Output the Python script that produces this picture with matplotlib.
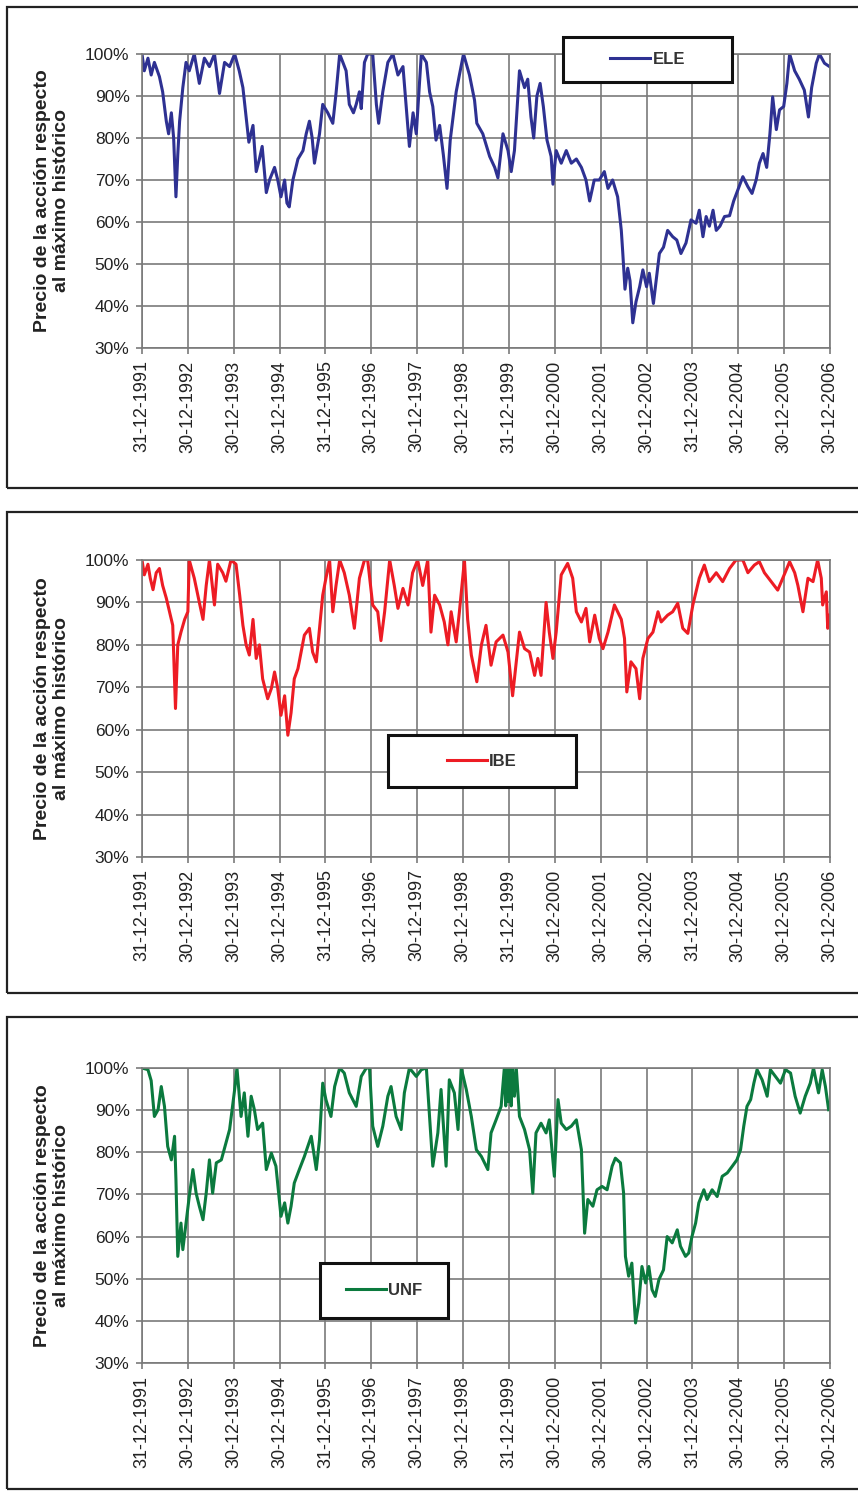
import matplotlib
matplotlib.use("Agg")
import matplotlib.pyplot as plt
from matplotlib.patches import Rectangle

plt.rcParams['font.family'] = ['Liberation Sans', 'DejaVu Sans']

# -----------------------------
# Data (decimal years / % of historic max)
# -----------------------------
ele_years = [1992.00, 1992.05, 1992.13, 1992.20, 1992.27, 1992.38, 1992.45, 1992.53, 1992.58, 1992.64,
             1992.69, 1992.74, 1992.78, 1992.82, 1992.89, 1992.96, 1993.03, 1993.14, 1993.25, 1993.36,
             1993.47, 1993.58, 1993.69, 1993.80, 1993.91, 1994.02, 1994.12, 1994.20, 1994.27, 1994.33,
             1994.42, 1994.49, 1994.56, 1994.62, 1994.71, 1994.78, 1994.89, 1994.96, 1995.03, 1995.11,
             1995.16, 1995.21, 1995.29, 1995.40, 1995.51, 1995.58, 1995.65, 1995.71, 1995.76, 1995.87,
             1995.94, 1996.05, 1996.16, 1996.23, 1996.31, 1996.38, 1996.45, 1996.52, 1996.61, 1996.67,
             1996.74, 1996.78, 1996.85, 1996.92, 1997.03, 1997.11, 1997.16, 1997.25, 1997.36, 1997.47,
             1997.58, 1997.69, 1997.76, 1997.83, 1997.91, 1997.98, 1998.09, 1998.20, 1998.27, 1998.34,
             1998.41, 1998.49, 1998.57, 1998.65, 1998.72, 1998.85, 1998.92, 1999.01, 1999.14, 1999.25,
             1999.30, 1999.43, 1999.58, 1999.69, 1999.76, 1999.87, 1999.98, 2000.05, 2000.12, 2000.23,
             2000.34, 2000.41, 2000.48, 2000.54, 2000.61, 2000.68, 2000.75, 2000.83, 2000.92, 2000.96,
             2001.03, 2001.14, 2001.25, 2001.36, 2001.47, 2001.58, 2001.68, 2001.76, 2001.86, 2001.97,
             2002.08, 2002.16, 2002.26, 2002.37, 2002.45, 2002.48, 2002.53, 2002.59, 2002.64, 2002.70,
             2002.77, 2002.85, 2002.92, 2003.00, 2003.06, 2003.15, 2003.21, 2003.28, 2003.37, 2003.46,
             2003.57, 2003.66, 2003.75, 2003.86, 2003.97, 2004.08, 2004.15, 2004.23, 2004.30, 2004.37,
             2004.45, 2004.52, 2004.60, 2004.70, 2004.81, 2004.90, 2004.99, 2005.10, 2005.21, 2005.30,
             2005.39, 2005.46, 2005.54, 2005.62, 2005.69, 2005.75, 2005.83, 2005.90, 2005.99, 2006.06,
             2006.12, 2006.23, 2006.33, 2006.44, 2006.53, 2006.60, 2006.70, 2006.77, 2006.88, 2006.99]
ele_vals = [100, 96, 99, 95, 98, 94.6, 91, 84, 81, 86,
            80, 66, 76, 84, 92, 98, 96, 100, 93, 99,
            97, 100, 90.6, 98, 97, 100, 96, 92, 85, 79,
            83, 72, 75, 78, 67, 70, 73, 70, 66, 70,
            64.5, 63.6, 70, 75, 77, 81, 84, 80, 74, 81,
            88, 86, 83.5, 90.6, 100, 98, 96, 88, 86, 88,
            91, 87, 98, 100, 100, 88, 83.5, 91, 98, 100,
            95, 97, 87.5, 78, 86, 81, 100, 98, 91, 87.5,
            79.5, 83, 76, 68, 79.5, 91, 95, 100, 95, 89,
            83.5, 81, 75.6, 73, 70.5, 81, 77, 72, 77, 96,
            92, 94, 85, 80, 90, 93, 87.5, 79.5, 75.6, 69,
            77, 74, 77, 74, 75, 73, 70, 65, 70, 70,
            72, 68, 70, 66, 58, 53, 44, 49, 46, 36,
            41, 44.6, 48.6, 44.6, 47.8, 40.6, 46, 52.5, 54, 58,
            56.5, 55.7, 52.5, 55, 60.5, 59.7, 62.8, 56.5, 61.3, 59,
            62.8, 58, 59, 61.3, 61.5, 65, 67.6, 70.8, 68.4, 66.8,
            70, 74, 76.3, 73, 81, 89.8, 82, 86.7, 87.5, 93,
            100, 96, 94, 91.4, 85, 92, 97.8, 100, 97.8, 97]

ibe_years = [1992.00, 1992.05, 1992.13, 1992.18, 1992.24, 1992.31, 1992.38, 1992.45, 1992.53, 1992.60,
             1992.67, 1992.73, 1992.78, 1992.85, 1992.93, 1993.00, 1993.03, 1993.14, 1993.25, 1993.33,
             1993.40, 1993.47, 1993.58, 1993.65, 1993.76, 1993.83, 1993.94, 1994.05, 1994.13, 1994.20,
             1994.27, 1994.34, 1994.42, 1994.49, 1994.56, 1994.63, 1994.74, 1994.82, 1994.89, 1994.96,
             1995.03, 1995.11, 1995.18, 1995.25, 1995.32, 1995.40, 1995.47, 1995.54, 1995.65, 1995.72,
             1995.80, 1995.87, 1995.94, 1996.01, 1996.09, 1996.16, 1996.23, 1996.31, 1996.41, 1996.52,
             1996.63, 1996.74, 1996.85, 1996.92, 1997.03, 1997.14, 1997.21, 1997.29, 1997.40, 1997.50,
             1997.58, 1997.69, 1997.80, 1997.90, 1998.01, 1998.12, 1998.23, 1998.30, 1998.38, 1998.49,
             1998.59, 1998.67, 1998.74, 1998.85, 1998.92, 1999.03, 1999.10, 1999.18, 1999.30, 1999.40,
             1999.50, 1999.61, 1999.72, 1999.87, 1999.98, 2000.08, 2000.16, 2000.23, 2000.34, 2000.45,
             2000.56, 2000.63, 2000.70, 2000.81, 2000.88, 2000.96, 2001.03, 2001.14, 2001.28, 2001.39,
             2001.47, 2001.58, 2001.68, 2001.76, 2001.87, 2001.97, 2002.05, 2002.16, 2002.30, 2002.45,
             2002.52, 2002.57, 2002.66, 2002.77, 2002.85, 2002.92, 2003.03, 2003.14, 2003.25, 2003.32,
             2003.46, 2003.57, 2003.68, 2003.79, 2003.90, 2004.01, 2004.15, 2004.26, 2004.37, 2004.52,
             2004.66, 2004.81, 2004.95, 2005.10, 2005.21, 2005.35, 2005.46, 2005.57, 2005.72, 2005.86,
             2005.97, 2006.12, 2006.23, 2006.30, 2006.41, 2006.52, 2006.63, 2006.73, 2006.81, 2006.84,
             2006.92, 2006.95, 2007.00]
ibe_vals = [100, 96.5, 99, 95.7, 93, 97, 98, 94, 91, 87.8,
            84.6, 65, 80, 83, 86, 87.8, 100, 95.7, 90, 86,
            94, 100, 89.4, 99, 97, 95, 100, 99, 91.7, 84.6,
            80, 77.6, 86, 76.8, 80, 72, 67.3, 69.7, 73.6, 69.7,
            63.4, 68, 58.7, 64, 72, 74.4, 78.3, 82.3, 83.9, 78.3,
            76, 83.9, 91.7, 95.7, 100, 87.8, 94, 100, 97, 91.7,
            83.9, 95.7, 100, 100, 89.4, 87.8, 81, 87.8, 100, 94,
            88.6, 93.3, 89.4, 97, 100, 94, 100, 83, 91.7, 89.4,
            85.4, 80, 87.8, 80.7, 87.8, 100, 86, 77.6, 71.3, 80,
            84.6, 75.2, 80.7, 82.3, 78.3, 68, 76, 83, 79.1, 78.3,
            72.8, 76.8, 72.8, 90, 83, 76.8, 83, 96.5, 99.2, 95.7,
            87.8, 85.4, 88.6, 80.7, 87, 81.5, 79.1, 83, 89.4, 86,
            81.5, 68.9, 76, 74.4, 67.3, 76.8, 81.5, 83, 87.8, 85.4,
            87, 87.8, 89.8, 83.9, 82.7, 89.4, 95.7, 98.8, 94.9, 97,
            94.9, 98, 100, 100, 97, 98.8, 99.6, 97, 94.9, 92.9,
            95.7, 99.6, 97, 94, 87.8, 95.7, 94.9, 100, 95.7, 89.4,
            92.5, 83.9, 87]

unf_years = [1992.00, 1992.13, 1992.20, 1992.27, 1992.35, 1992.42, 1992.49, 1992.56, 1992.64, 1992.71,
             1992.74, 1992.78, 1992.85, 1992.89, 1992.96, 1993.03, 1993.11, 1993.18, 1993.25, 1993.33,
             1993.40, 1993.47, 1993.54, 1993.62, 1993.73, 1993.83, 1993.91, 1994.02, 1994.07, 1994.16,
             1994.23, 1994.31, 1994.38, 1994.45, 1994.52, 1994.63, 1994.71, 1994.82, 1994.92, 1995.03,
             1995.11, 1995.18, 1995.25, 1995.32, 1995.43, 1995.54, 1995.69, 1995.80, 1995.87, 1995.94,
             1996.01, 1996.12, 1996.20, 1996.31, 1996.41, 1996.52, 1996.67, 1996.78, 1996.89, 1996.96,
             1997.03, 1997.14, 1997.25, 1997.36, 1997.43, 1997.54, 1997.65, 1997.72, 1997.83, 1997.98,
             1998.09, 1998.20, 1998.27, 1998.34, 1998.45, 1998.52, 1998.63, 1998.70, 1998.81, 1998.89,
             1998.96, 1999.07, 1999.18, 1999.29, 1999.40, 1999.54, 1999.61, 1999.72, 1999.83, 1999.90,
             1999.93, 1999.96, 1999.99, 2000.02, 2000.05, 2000.08, 2000.12, 2000.16, 2000.23, 2000.34,
             2000.45, 2000.52, 2000.59, 2000.70, 2000.81, 2000.88, 2000.99, 2001.07, 2001.14, 2001.25,
             2001.36, 2001.47, 2001.58, 2001.65, 2001.72, 2001.83, 2001.92, 2002.03, 2002.14, 2002.25,
             2002.32, 2002.43, 2002.50, 2002.54, 2002.61, 2002.68, 2002.76, 2002.83, 2002.90, 2002.98,
             2003.05, 2003.12, 2003.19, 2003.27, 2003.37, 2003.45, 2003.56, 2003.67, 2003.74, 2003.85,
             2003.92, 2003.99, 2004.07, 2004.14, 2004.25, 2004.32, 2004.43, 2004.54, 2004.65, 2004.76,
             2004.87, 2004.97, 2005.05, 2005.12, 2005.19, 2005.27, 2005.34, 2005.41, 2005.52, 2005.63,
             2005.70, 2005.81, 2005.92, 2006.03, 2006.14, 2006.24, 2006.35, 2006.46, 2006.57, 2006.64,
             2006.75, 2006.83, 2006.90, 2006.97]
unf_vals = [100, 99.6, 97, 88.5, 90.1, 95.6, 90.9, 81.4, 78.2, 83.8,
            73.5, 55.3, 63.2, 56.9, 63.2, 69.5, 75.9, 70.3, 67.2, 64,
            70.3, 78.2, 70.3, 77.5, 78.2, 82.2, 85.4, 94.9, 100, 88.5,
            94.1, 83.8, 93.3, 90.1, 85.4, 86.9, 75.9, 79.8, 76.7, 64.8,
            68, 63.2, 67.2, 72.7, 75.9, 79, 83.8, 75.9, 83, 96.4,
            92.5, 88.5, 95.6, 100, 98.8, 94.1, 90.9, 98, 100, 100,
            86.2, 81.4, 86.2, 93.3, 95.6, 88.5, 85.4, 94.1, 100, 98,
            99.6, 100, 88.5, 76.7, 84.6, 94.9, 76.7, 97.2, 94.1, 85.4,
            100, 94.9, 88.5, 80.6, 79, 75.9, 84.6, 87.7, 90.9, 100,
            91, 100, 92, 100, 91, 100, 93.3, 100, 88.5, 85.4,
            80.6, 70.3, 84.6, 86.9, 84.6, 87.7, 74.3, 92.5, 86.9, 85.4,
            86.2, 87.7, 80.6, 60.8, 68.8, 67.2, 71.1, 71.9, 71.1, 76.7,
            78.6, 77.5, 70.3, 55.3, 50.6, 53.7, 39.5, 44.2, 52.9, 49,
            52.9, 47.4, 45.8, 49.8, 52.1, 60, 58.5, 61.6, 57.7, 55.3,
            56.1, 60, 63.2, 68, 71.1, 68.8, 71.1, 69.5, 74.3, 75.1,
            76.7, 78.2, 80.6, 86.2, 90.9, 92.5, 96.4, 99.6, 97.2, 93.3,
            99.6, 98, 96.4, 99.6, 98.8, 93.3, 89.3, 93.3, 96.4, 100,
            94.1, 99.6, 95.6, 90.1]

tick_years = list(range(1992, 2008))
tick_labels = ["31-12-1991", "30-12-1992", "30-12-1993", "30-12-1994", "31-12-1995",
               "30-12-1996", "30-12-1997", "30-12-1998", "31-12-1999", "30-12-2000",
               "30-12-2001", "30-12-2002", "31-12-2003", "30-12-2004", "30-12-2005",
               "30-12-2006"]
pct_ticks = [30, 40, 50, 60, 70, 80, 90, 100]

# -----------------------------
# Layout (pixel boxes on a 858x1491 canvas)
# -----------------------------
W, H = 858, 1491


def fig_rect(x0, y0, x1, y1):
    return [x0 / W, 1 - y1 / H, (x1 - x0) / W, (y1 - y0) / H]


panels = [
    # name, years, values, colour, plot box, frame box, legend box
    ("ELE", ele_years, ele_vals, "#2e3192", (142, 54, 830, 348), (7, 7, 880, 488), (563, 37, 732, 82)),
    ("IBE", ibe_years, ibe_vals, "#ed1c24", (142, 560, 830, 857), (7, 512, 880, 993), (388, 735, 576, 787)),
    ("UNF", unf_years, unf_vals, "#0b7a3e", (142, 1068, 830, 1363), (7, 1017, 880, 1489), (320, 1263, 448, 1318)),
]

fig = plt.figure(figsize=(W / 100, H / 100), dpi=100)
grid_col = "#7a7a7a"

for name, years, vals, colour, plot_box, frame_box, leg_box in panels:
    ax = fig.add_axes(fig_rect(*plot_box))
    line, = ax.plot(years, vals, color=colour, linewidth=2.2, label=name)

    ax.set_xlim(1992, 2007)
    ax.set_ylim(30, 100)
    ax.set_xticks(tick_years)
    ax.set_xticklabels(tick_labels, rotation=90, fontsize=13, color="#222222")
    ax.set_yticks(pct_ticks)
    ax.set_yticklabels([f"{v}%" for v in pct_ticks], fontsize=12.5, color="#222222")
    ax.grid(True, color=grid_col, linewidth=1.2)
    ax.set_axisbelow(True)
    ax.tick_params(length=4, color=grid_col, width=1.2, pad=5)
    for sp in ax.spines.values():
        sp.set_color(grid_col)
        sp.set_linewidth(1.2)

    ax.set_ylabel("Precio de la acción respecto\nal máximo histórico",
                  fontsize=14, fontweight="bold", color="#222222", linespacing=1.15)
    ax.yaxis.set_label_coords(-0.104, 0.5)

    # outer frame around each chart
    fx, fy, fw, fh = fig_rect(*frame_box)
    fig.add_artist(Rectangle((fx, fy), fw, fh, transform=fig.transFigure, fill=False,
                             edgecolor="#222222", linewidth=1.6))

    # boxed legend
    lx, ly, lw, lh = fig_rect(*leg_box)
    fig.add_artist(Rectangle((lx, ly), lw, lh, transform=fig.transFigure,
                             facecolor="white", edgecolor="#111111", linewidth=2.2))
    fig.legend(handles=[line], loc="center", bbox_to_anchor=(lx + lw / 2, ly + lh / 2),
               frameon=False, handlelength=2.4, handletextpad=0.15,
               labelcolor="#333333", prop={"size": 12, "weight": "bold"})

fig.savefig("out.png", dpi=100)
plt.close(fig)
